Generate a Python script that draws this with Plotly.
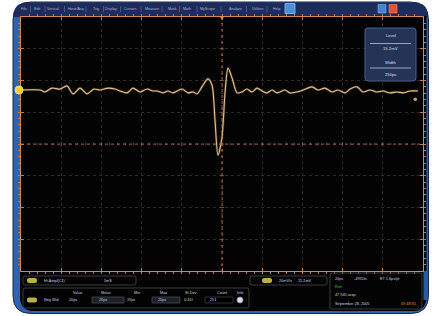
import plotly.graph_objects as go

# ---------------- data ----------------
time_ps = [-100, -90.5, -88.1, -84.6, -80.6, -77.1, -74.1, -70.6, -67.2, -63.7, -60.7,
           -56.7, -53.2, -50.7, -47.3, -44.3, -40.8, -37.3, -34.3, -32.3, -29.4, -26.9,
           -24.4, -19.9, -16.9, -14.4, -12.4, -10.0, -7.0, -5.0, -3.5, -2.0, 0.0, 1.5,
           3.0, 5.0, 7.5, 10.0, 12.4, 14.9, 17.4, 19.9, 22.4, 24.9, 27.4, 31.3, 33.8,
           37.3, 40.3, 44.8, 47.8, 51.2, 54.7, 57.7, 61.2, 63.7, 67.2, 70.1, 73.6, 77.1,
           80.1, 83.6, 87.1, 90.0, 93.5, 97.5]
volt_mV = [17.0, 17.0, 16.4, 17.6, 17.3, 18.3, 15.8, 17.6, 15.8, 17.3, 17.0,
           17.6, 17.3, 16.7, 16.1, 17.6, 16.4, 17.3, 16.7, 16.7, 16.1, 16.7,
           16.1, 17.3, 16.1, 16.4, 15.8, 18.0, 20.5, 18.6, 7.6, -3.5, 2.2, 16.1,
           23.9, 20.8, 16.1, 16.4, 17.3, 16.4, 17.6, 16.7, 16.1, 17.0, 16.1, 17.0, 16.1,
           16.4, 17.0, 18.0, 17.0, 17.6, 16.4, 17.0, 16.1, 17.3, 18.0, 16.4, 17.0, 16.4,
           16.7, 16.1, 16.4, 16.1, 16.7, 16.7]

menu_items = ["File", "Edit", "Vertical", "Horiz/Acq", "Trig", "Display", "Cursors",
              "Measure", "Mask", "Math", "MyScope", "Analyze", "Utilities", "Help"]
meas_headers = ["Value", "Mean", "Min", "Max", "St Dev", "Count", "Info"]
meas_values = ["20ps", "20ps", "19ps", "20ps", "0.41f", "251"]

# ---------------- geometry helpers (pixels -> paper) ----------------
W, H = 434, 316
def px(x):
    return x / W
def py(y):
    return 1 - y / H

PX0, PX1, PY0, PY1 = 21, 423, 17, 271   # plot area in pixels

def rrect_path(x0, y0, x1, y1, r, corners=(1, 1, 1, 1)):
    tl, tr, br, bl = [r if c else 0 for c in corners]
    p = f"M {px(x0 + tl)} {py(y0)} L {px(x1 - tr)} {py(y0)} "
    p += f"Q {px(x1)} {py(y0)} {px(x1)} {py(y0 + tr)} "
    p += f"L {px(x1)} {py(y1 - br)} Q {px(x1)} {py(y1)} {px(x1 - br)} {py(y1)} "
    p += f"L {px(x0 + bl)} {py(y1)} Q {px(x0)} {py(y1)} {px(x0)} {py(y1 - bl)} "
    p += f"L {px(x0)} {py(y0 + tl)} Q {px(x0)} {py(y0)} {px(x0 + tl)} {py(y0)} Z"
    return p

shapes = []
annos = []

def rect(x0, y0, x1, y1, fill, line=None, lw=0, layer="below"):
    shapes.append(dict(type="rect", xref="paper", yref="paper", x0=px(x0), x1=px(x1),
                       y0=py(y1), y1=py(y0), fillcolor=fill,
                       line=dict(color=line or fill, width=lw), layer=layer))

def hline(x0, x1, y, color, w=1, dash="solid", layer="above"):
    shapes.append(dict(type="line", xref="paper", yref="paper", x0=px(x0), x1=px(x1),
                       y0=py(y), y1=py(y), line=dict(color=color, width=w, dash=dash), layer=layer))

def vline(x, y0, y1, color, w=1, dash="solid", layer="above"):
    shapes.append(dict(type="line", xref="paper", yref="paper", x0=px(x), x1=px(x),
                       y0=py(y0), y1=py(y1), line=dict(color=color, width=w, dash=dash), layer=layer))

def text(x, y, s, size=4.5, color="#c8d0e0", anchor="left"):
    annos.append(dict(xref="paper", yref="paper", x=px(x), y=py(y), text=s, showarrow=False,
                      xanchor=anchor, yanchor="middle",
                      font=dict(size=size, color=color, family="Arial, Liberation Sans")))

# ---------------- frame ----------------
shapes.append(dict(type="path", xref="paper", yref="paper", layer="below",
                   path=rrect_path(13, 2, 428.5, 313.5, 18),
                   fillcolor="#2f63ae", line=dict(color="#1c2440", width=1)))
shapes.append(dict(type="path", xref="paper", yref="paper", layer="below",
                   path=rrect_path(13.5, 2.5, 428, 17, 14, corners=(1, 1, 0, 0)),
                   fillcolor="#1d2c5c", line=dict(width=0)))
shapes.append(dict(type="path", xref="paper", yref="paper", layer="below",
                   path=rrect_path(20, 16, 426.5, 311, 14, corners=(0, 0, 1, 1)),
                   fillcolor="#030303", line=dict(width=0)))
rect(423.5, 271, 427.5, 300, "#2a5aa3")

# menu
menu_x = [24, 37, 53, 76, 96, 111, 130, 152, 172, 187, 207, 235, 258, 276]
for i, (mx, item) in enumerate(zip(menu_x, menu_items)):
    text(mx, 9, item, size=3.6, color="#a8b8d8", anchor="center")
    if i < len(menu_items) - 1:
        sx = (mx + menu_x[i + 1]) / 2
        vline(sx, 6, 12, "#51609a", w=0.8)
rect(285, 3.5, 295, 13.5, "#4a90d8", "#8cc0f0", 0.8, layer="above")
rect(378, 4.5, 386, 13, "#3f86d0", "#7fb4e6", 0.6, layer="above")
rect(389, 4.5, 397, 13, "#e0523a", "#f08a70", 0.6, layer="above")

# ---------------- graticule ----------------
gcol = "#b87450"
xdiv = (PX1 - PX0) / 10
ydiv = (PY1 - PY0) / 8
cx = (PX0 + PX1) / 2
cy = (PY0 + PY1) / 2
vline(cx, PY0, PY1, gcol, w=0.7, dash="dot")
hline(PX0, PX1, cy, gcol, w=0.7, dash="dot")
for k in range(1, 50):
    x = PX0 + k * xdiv / 5
    L = 1.2 if k % 5 else 2.2
    vline(x, cy - L, cy + L, gcol, w=0.6)
for k in range(1, 40):
    y = PY0 + k * ydiv / 5
    L = 1.2 if k % 5 else 2.2
    hline(cx - L, cx + L, y, gcol, w=0.6)

# markers on the screen edges
shapes.append(dict(type="circle", xref="paper", yref="paper", x0=px(15), x1=px(23),
                   y0=py(94), y1=py(86), fillcolor="#f2d23c", line=dict(color="#f8e070", width=1)))
shapes.append(dict(type="circle", xref="paper", yref="paper", x0=px(413.5), x1=px(417),
                   y0=py(101), y1=py(97.5), fillcolor="#d99a60", line=dict(width=0)))
shapes.append(dict(type="path", xref="paper", yref="paper",
                   path=f"M {px(219.5)} {py(16)} L {px(224.5)} {py(16)} L {px(222)} {py(20)} Z",
                   fillcolor="#e08a50", line=dict(width=0)))

# ---------------- right menu box ----------------
shapes.append(dict(type="path", xref="paper", yref="paper", layer="above",
                   path=rrect_path(365, 28, 416, 81, 3),
                   fillcolor="#243457", line=dict(color="#4d5f8a", width=1)))
hline(370, 411, 43.5, "#b8c4dc", w=0.8)
hline(370, 411, 68, "#b8c4dc", w=0.8)
text(390.5, 35, "Level", size=4.2, color="#d8e0f0", anchor="center")
text(390.5, 49, "15.2mV", size=4.2, color="#d8e0f0", anchor="center")
text(390.5, 62.5, "Width", size=4.2, color="#d8e0f0", anchor="center")
text(390.5, 74, "250ps", size=4.2, color="#d8e0f0", anchor="center")

# ---------------- bottom panel ----------------
bcol = "#3b3b3b"
for (a, b, c, d) in [(23, 276, 136, 285), (250, 276, 327, 285), (23, 288, 249, 308), (330, 273, 422, 309)]:
    shapes.append(dict(type="path", xref="paper", yref="paper", path=rrect_path(a, b, c, d, 2),
                       fillcolor="rgba(0,0,0,0)", line=dict(color=bcol, width=1)))
for (bx, by) in [(27, 280.5), (262, 280.5), (27, 300)]:
    shapes.append(dict(type="path", xref="paper", yref="paper",
                       path=rrect_path(bx, by - 2.5, bx + 10, by + 2.5, 2),
                       fillcolor="#b9b046", line=dict(width=0)))
text(42, 280.5, "Hi-Ampl(C1)", size=3.8)
text(102, 280.5, "5mS", size=3.8)
text(277, 280.5, "20mV/s", size=3.8)
text(296, 280.5, "15.2mV", size=3.8)

head_x = [77, 106, 137, 163, 190, 222, 240]
for hx, h in zip(head_x, meas_headers):
    text(hx, 293, h, size=3.8, anchor="center")
text(42, 300, "Neg Wid", size=3.8)
rect(92, 297, 124, 303, "#1c2028", "#4a4a4a", 0.8, layer="above")
rect(152, 297, 180, 303, "#1c2028", "#4a4a4a", 0.8, layer="above")
rect(205, 297, 233, 303, "#000000", "#3a3a3a", 0.8, layer="above")
val_x = [67, 97, 125, 156, 182, 208]
for vx, v in zip(val_x, meas_values):
    text(vx, 300, v, size=3.8)
shapes.append(dict(type="circle", xref="paper", yref="paper", x0=px(237), x1=px(243),
                   y0=py(303), y1=py(297), fillcolor="#d8dce4", line=dict(color="#8890a0", width=0.8)))

text(333, 279, "20ps", size=3.8)
text(352, 279, "-4955fs", size=3.8)
text(378, 279, "ET 1.6ps/pt", size=3.8)
text(333, 287, "Run", size=3.8, color="#3cc84a")
text(333, 295, "47 945 acqs", size=3.8)
text(333, 304, "September 28, 2005", size=3.8)
text(399, 304, "09:48:35", size=3.8, color="#e8903c")

# ---------------- figure ----------------
fig = go.Figure()
fig.add_trace(go.Scatter(x=time_ps, y=volt_mV, mode="lines", hoverinfo="skip",
                         line=dict(color="rgba(230,190,120,0.22)", width=2.6,
                                   shape="spline", smoothing=0.8)))
fig.add_trace(go.Scatter(x=time_ps, y=volt_mV, mode="lines",
                         line=dict(color="#e4c088", width=1.1, shape="spline", smoothing=0.8)))

axis_common = dict(showticklabels=False, zeroline=False, showline=True, linecolor="#d48a58",
                   linewidth=1.2, mirror="ticks", ticks="inside", tickcolor="#c07a50",
                   ticklen=3, tickwidth=0.8, showgrid=True, gridcolor="#2e2824",
                   griddash="dot", gridwidth=1, fixedrange=True)
fig.update_layout(
    width=W, height=H, margin=dict(l=0, r=0, t=0, b=0),
    paper_bgcolor="white", plot_bgcolor="black", showlegend=False,
    xaxis=dict(range=[-100, 100], dtick=20, domain=[px(PX0), px(PX1)],
               minor=dict(dtick=4, ticklen=1.5, tickcolor="#c07a50", showgrid=False),
               **axis_common),
    yaxis=dict(range=[-40, 40], dtick=10, domain=[py(PY1), py(PY0)],
               minor=dict(dtick=2, ticklen=1.5, tickcolor="#c07a50", showgrid=False),
               **axis_common),
    shapes=shapes, annotations=annos,
)
fig.write_html("out.html", config={"displayModeBar": False},
               post_script="document.body.style.margin='0';document.body.style.overflow='hidden';")
